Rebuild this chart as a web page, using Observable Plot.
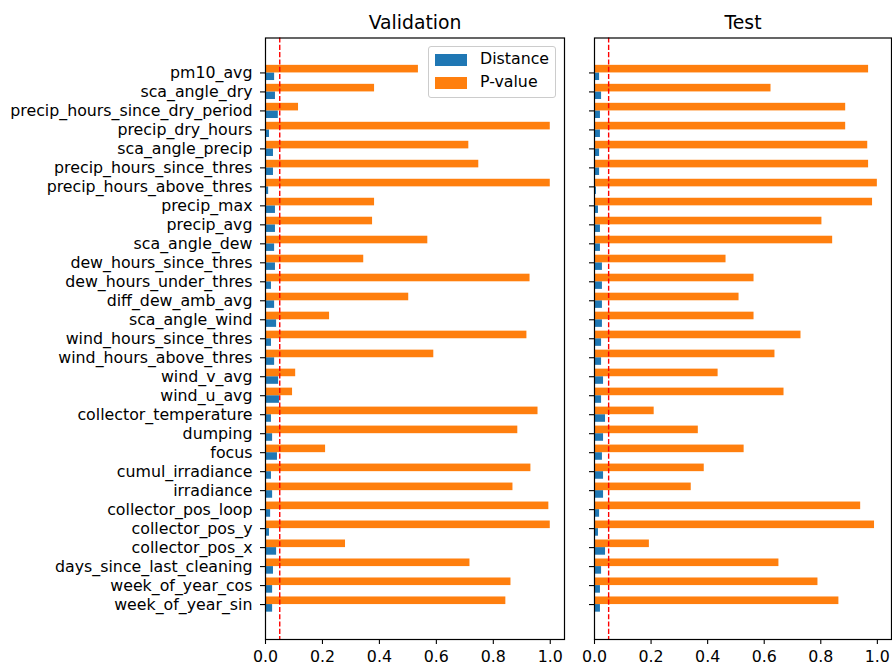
<!DOCTYPE html>
<html>
<head>
<meta charset="utf-8">
<script src="https://cdn.jsdelivr.net/npm/d3@7"></script>
<script src="https://cdn.jsdelivr.net/npm/@observablehq/plot@0.6"></script>
<style>
  html, body { margin: 0; padding: 0; background: white; }
  #wrap { position: relative; width: 892px; height: 665px; overflow: hidden; font-family: "DejaVu Sans", sans-serif; }
  #wrap > div.panel { position: absolute; top: 0; }
  #legend { position: absolute; left: 428px; top: 45.5px; width: 126px; height: 50px; border: 1px solid #cccccc; border-radius: 3px; background: rgba(255,255,255,0.8); }
  .item { position: absolute; left: 6px; font-size: 15.8px; color: #000; }
  .item .sw { position: absolute; left: 0; width: 32px; height: 12px; }
  .item .lb { position: absolute; left: 45px; white-space: nowrap; line-height: 1; }
</style>
</head>
<body>
<div id="wrap">
  <div class="panel" id="val" style="left:0px"></div>
  <div class="panel" id="test" style="left:580px"></div>
  <div id="legend"></div>
</div>
<script>
// Features, top to bottom as displayed
const features = [
  "pm10_avg", "sca_angle_dry", "precip_hours_since_dry_period", "precip_dry_hours",
  "sca_angle_precip", "precip_hours_since_thres", "precip_hours_above_thres", "precip_max",
  "precip_avg", "sca_angle_dew", "dew_hours_since_thres", "dew_hours_under_thres",
  "diff_dew_amb_avg", "sca_angle_wind", "wind_hours_since_thres", "wind_hours_above_thres",
  "wind_v_avg", "wind_u_avg", "collector_temperature", "dumping", "focus",
  "cumul_irradiance", "irradiance", "collector_pos_loop", "collector_pos_y",
  "collector_pos_x", "days_since_last_cleaning", "week_of_year_cos", "week_of_year_sin"
];
const seriesNames = ["Distance", "P-value"];
const seriesColors = ["#1f77b4", "#ff7f0e"];
const panelTitles = ["Validation", "Test"];
const threshold = 0.05;
const xTicks = [0, 0.2, 0.4, 0.6, 0.8, 1.0];

const valDistance = [0.032, 0.035, 0.045, 0.014, 0.028, 0.028, 0.011, 0.035, 0.035, 0.032,
  0.035, 0.021, 0.032, 0.039, 0.021, 0.032, 0.046, 0.049, 0.021, 0.025, 0.042,
  0.021, 0.025, 0.018, 0.014, 0.039, 0.028, 0.025, 0.025];
const valPvalue = [0.537, 0.383, 0.116, 1.0, 0.714, 0.749, 1.0, 0.383, 0.376, 0.570,
  0.345, 0.929, 0.503, 0.225, 0.918, 0.591, 0.106, 0.095, 0.957, 0.886, 0.211,
  0.932, 0.869, 0.995, 1.0, 0.281, 0.718, 0.862, 0.844];
const testDistance = [0.018, 0.025, 0.021, 0.021, 0.018, 0.018, 0.007, 0.014, 0.021, 0.021,
  0.028, 0.028, 0.028, 0.028, 0.025, 0.025, 0.032, 0.025, 0.039, 0.032, 0.028,
  0.032, 0.032, 0.018, 0.014, 0.039, 0.025, 0.021, 0.021];
const testPvalue = [0.969, 0.624, 0.888, 0.888, 0.966, 0.969, 1.0, 0.983, 0.804, 0.842,
  0.465, 0.564, 0.511, 0.564, 0.730, 0.638, 0.437, 0.670, 0.211, 0.367, 0.529,
  0.388, 0.342, 0.941, 0.990, 0.194, 0.652, 0.790, 0.864];

const n = features.length;
const barH = 0.4;

function rows(dist, pval) {
  const out = [];
  features.forEach((f, k) => {
    const i = n - 1 - k; // index 0 at bottom
    out.push({feature: f, i, series: seriesNames[0], value: dist[k], lo: i - barH, hi: i});
    out.push({feature: f, i, series: seriesNames[1], value: pval[k], lo: i, hi: i + barH});
  });
  return out;
}

const fontSize = 15.8;
const titleSize = 18.8;
const common = {
  height: 665,
  marginTop: 37.5,
  marginBottom: 26,
  style: {fontFamily: "DejaVu Sans", fontSize: fontSize + "px", background: "white", color: "black", overflow: "visible"},
};
const yDomain = [-barH - 0.05 * (n - 1 + 2 * barH), n - 1 + barH + 0.05 * (n - 1 + 2 * barH)];

function makePanel(title, dist, pval, showLabels, width, ml, mr) {
  const data = rows(dist, pval);
  const maxV = d3.max(data, d => d.value);
  return Plot.plot({
    ...common,
    width,
    marginLeft: ml,
    marginRight: mr,
    x: {domain: [0, maxV * 1.05]},
    y: {domain: yDomain},
    color: {domain: seriesNames, range: seriesColors},
    marks: [
      Plot.rect(data, {x1: 0, x2: "value", y1: "lo", y2: "hi", fill: "series"}),
      Plot.ruleX([threshold], {stroke: "#ff0000", strokeWidth: 1.4, strokeDasharray: "5.1,2.2"}),
      Plot.frame({stroke: "black", strokeWidth: 1.2}),
      Plot.axisX({ticks: xTicks, tickFormat: d3.format(".1f"), tickSize: 5, tickPadding: 6, stroke: "black", strokeWidth: 1.1, fontSize: fontSize, label: null}),
      Plot.axisY({ticks: d3.range(n), tickFormat: showLabels ? (i => features[n - 1 - i]) : (() => ""), tickSize: 5, tickPadding: 8, stroke: "black", strokeWidth: 1.1, fontSize: fontSize, label: null}),
      Plot.text([title], {frameAnchor: "top", lineAnchor: "top", dy: -22.5, fontSize: titleSize, fill: "black"})
    ]
  });
}

document.getElementById("val").appendChild(makePanel(panelTitles[0], valDistance, valPvalue, true, 580, 265, 16));
document.getElementById("test").appendChild(makePanel(panelTitles[1], testDistance, testPvalue, false, 312, 14, 1));

// Legend
const leg = document.getElementById("legend");
seriesNames.forEach((s, j) => {
  const item = document.createElement("div");
  item.className = "item";
  item.style.top = (7 + j * 23) + "px";
  const sw = document.createElement("div");
  sw.className = "sw";
  sw.style.background = seriesColors[j];
  const lb = document.createElement("div");
  lb.className = "lb";
  lb.style.top = "-2.6px";
  lb.textContent = s;
  item.appendChild(sw);
  item.appendChild(lb);
  leg.appendChild(item);
});
</script>
</body>
</html>
